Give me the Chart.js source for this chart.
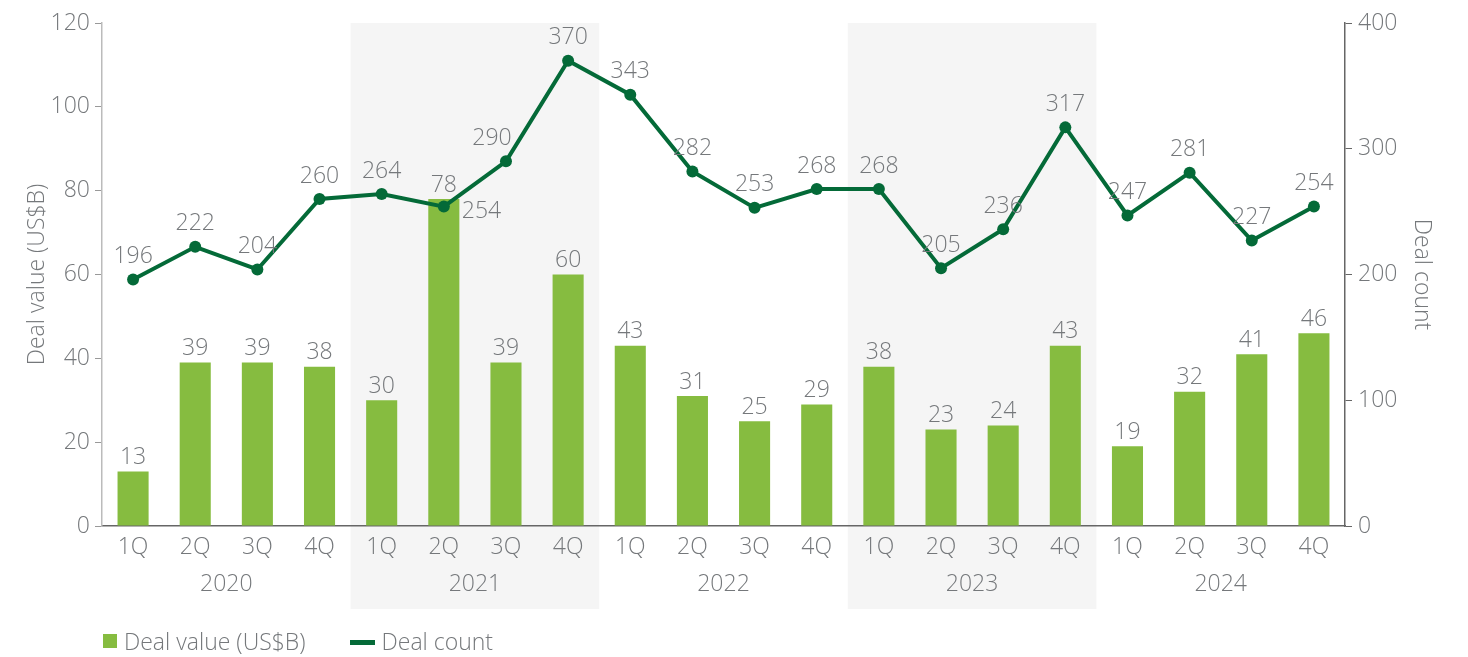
<!DOCTYPE html>
<html>
<head>
<meta charset="utf-8">
<script src="https://cdn.jsdelivr.net/npm/chart.js@4"></script>
<style>
    body { margin: 0; background: #fff; }
    #wrap { position: relative; width: 1468px; height: 657px; }
    #legend {
        position: absolute;
        left: 103px;
        top: 625px;
        font-family: "Open Sans", sans-serif;
        font-size: 23px;
        font-weight: 300;
        color: #75787B;
        display: flex;
        align-items: center;
    }
    .leg-item { display: flex; align-items: center; margin-right: 44px; }
    .leg-box { width: 14px; height: 14px; background: #86BC40; margin-right: 7px; }
    .leg-line { width: 25px; height: 5px; background: #046A38; margin-right: 7px; margin-top: 3px; }
</style>
</head>
<body>
<div id="wrap">
    <canvas id="dealsChart" width="1468" height="657"></canvas>
    <div id="legend">
        <div class="leg-item"><span class="leg-box"></span>Deal value (US$B)</div>
        <div class="leg-item"><span class="leg-line"></span>Deal count</div>
    </div>
</div>
<script>
const years = ['2020', '2021', '2022', '2023', '2024'];
const quarters = ['1Q', '2Q', '3Q', '4Q'];
const dealValue = [13, 39, 39, 38, 30, 78, 39, 60, 43, 31, 25, 29, 38, 23, 24, 43, 19, 32, 41, 46];
const dealCount = [196, 222, 204, 260, 264, 254, 290, 370, 343, 282, 253, 268, 268, 205, 236, 317, 247, 281, 227, 254];
const valueTicks = [0, 20, 40, 60, 80, 100, 120];
const countTicks = [0, 100, 200, 300, 400];
const shadedYears = ['2021', '2023'];

const labels = years.flatMap(() => quarters);

const GREY = '#75787B';
const FONT = { family: '"Open Sans", sans-serif', size: 23, weight: 300 };

// grey bands behind 2021 and 2023
const yearBands = {
    id: 'yearBands',
    beforeDraw(chart) {
        const { ctx, chartArea, scales } = chart;
        const x = scales.x;
        const half = (x.getPixelForValue(1) - x.getPixelForValue(0)) / 2;
        ctx.save();
        ctx.fillStyle = '#F5F5F5';
        shadedYears.forEach(yr => {
            const g = years.indexOf(yr);
            const left = x.getPixelForValue(g * 4) - half;
            const right = x.getPixelForValue(g * 4 + 3) + half;
            ctx.fillRect(left, chartArea.top, right - left, scales.x2.bottom + 3 - chartArea.top);
        });
        ctx.restore();
    }
};

// value labels above bars and points
const valueLabels = {
    id: 'valueLabels',
    afterDatasetsDraw(chart) {
        const { ctx } = chart;
        ctx.save();
        ctx.font = '300 23px "Open Sans", sans-serif';
        ctx.fillStyle = GREY;
        ctx.textBaseline = 'middle';
        chart.data.datasets.forEach((ds, di) => {
            const meta = chart.getDatasetMeta(di);
            meta.data.forEach((el, i) => {
                const txt = String(ds.data[i]);
                if (ds.type === 'bar') {
                    ctx.textAlign = 'center';
                    ctx.fillText(txt, el.x, el.y - 14);
                } else if (i === 5) {
                    // 2021 2Q count sits right of the point
                    ctx.textAlign = 'left';
                    ctx.fillText(txt, el.x + 18, el.y + 5);
                } else if (i === 6) {
                    // nudged left, clear of the rising line
                    ctx.textAlign = 'center';
                    ctx.fillText(txt, el.x - 14, el.y - 23);
                } else {
                    ctx.textAlign = 'center';
                    ctx.fillText(txt, el.x, el.y - 23);
                }
            });
        });
        ctx.restore();
    }
};

new Chart(document.getElementById('dealsChart').getContext('2d'), {
    data: {
        labels: labels,
        datasets: [
            {
                type: 'line',
                label: 'Deal count',
                data: dealCount,
                yAxisID: 'y2',
                borderColor: '#046A38',
                backgroundColor: '#046A38',
                borderWidth: 4,
                pointRadius: 6,
                pointBackgroundColor: '#046A38',
                pointBorderWidth: 0,
                tension: 0,
                order: 0
            },
            {
                type: 'bar',
                label: 'Deal value (US$B)',
                data: dealValue,
                yAxisID: 'y',
                backgroundColor: '#86BC40',
                barPercentage: 0.5,
                categoryPercentage: 1.0,
                order: 1
            }
        ]
    },
    options: {
        responsive: false,
        animation: false,
        layout: { padding: { top: 23, bottom: 51, left: 0, right: 0 } },
        plugins: {
            legend: { display: false },
            tooltip: { enabled: false }
        },
        scales: {
            x: {
                type: 'category',
                position: 'bottom',
                grid: { display: false, drawTicks: false },
                border: { display: true, color: '#666', width: 1.5 },
                ticks: { color: GREY, font: FONT, padding: 8, maxRotation: 0 },
                afterFit: s => { s.height = 40; }
            },
            x2: {
                type: 'category',
                position: 'bottom',
                offset: true,
                labels: years,
                grid: { display: false, drawTicks: false },
                border: { display: false },
                ticks: { color: GREY, font: FONT, padding: 5, maxRotation: 0 },
                afterFit: s => { s.height = 40; }
            },
            y: {
                position: 'left',
                min: valueTicks[0],
                max: valueTicks[valueTicks.length - 1],
                grid: { display: true, drawOnChartArea: false, drawTicks: true, tickLength: 7, color: '#999' },
                border: { display: true, color: '#BBB', width: 1.5 },
                afterBuildTicks: s => { s.ticks = valueTicks.map(v => ({ value: v })); },
                ticks: { color: GREY, font: FONT, padding: 5 },
                title: { display: true, text: 'Deal value (US$B)', color: GREY, font: FONT, padding: { top: 24, bottom: 0 } },
                afterFit: s => { s.width = 102; }
            },
            y2: {
                position: 'right',
                min: countTicks[0],
                max: countTicks[countTicks.length - 1],
                grid: { display: true, drawOnChartArea: false, drawTicks: true, tickLength: 7, color: '#666' },
                border: { display: true, color: '#666', width: 1.5 },
                afterBuildTicks: s => { s.ticks = countTicks.map(v => ({ value: v })); },
                ticks: { color: GREY, font: FONT, padding: 6 },
                title: { display: true, text: 'Deal count', color: GREY, font: FONT, padding: { top: 33, bottom: 0 } },
                afterFit: s => { s.width = 123; }
            }
        }
    },
    plugins: [yearBands, valueLabels]
});
</script>
</body>
</html>
